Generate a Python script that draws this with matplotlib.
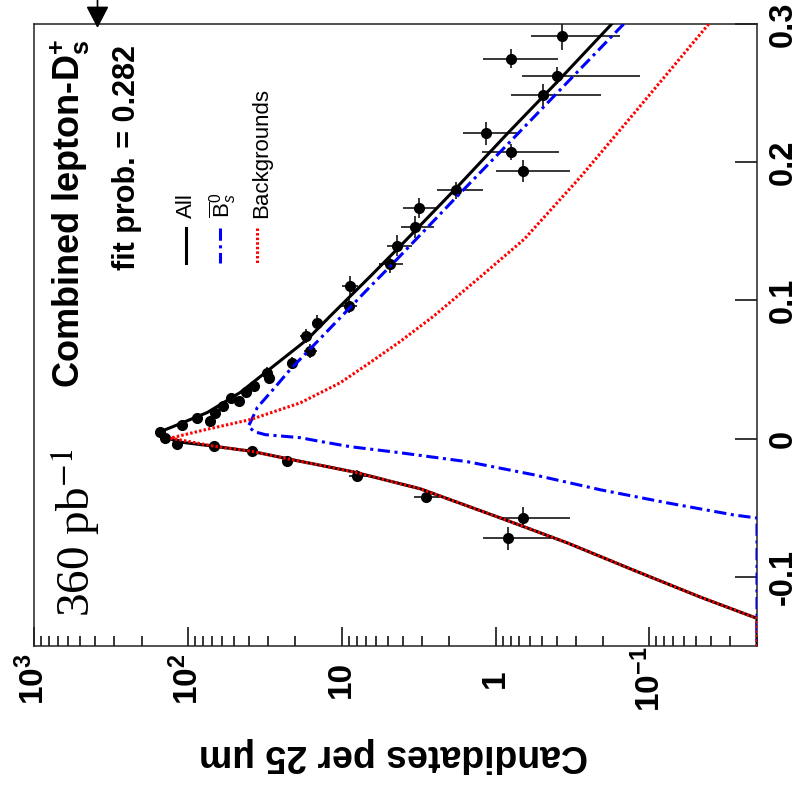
import matplotlib
matplotlib.use('Agg')
import matplotlib.pyplot as plt
from matplotlib.lines import Line2D
from matplotlib.ticker import LogLocator, NullFormatter
from matplotlib.transforms import blended_transform_factory

plt.rcParams['font.family'] = ['Liberation Sans', 'DejaVu Sans']
plt.rcParams['mathtext.fontset'] = 'custom'
plt.rcParams['mathtext.rm'] = 'Liberation Sans'
plt.rcParams['mathtext.bf'] = 'Liberation Sans:bold'
plt.rcParams['mathtext.it'] = 'Liberation Sans:italic'
plt.rcParams['mathtext.sf'] = 'Liberation Sans'

W, H = 799, 789

# ---- data points: decay length t (cm) vs candidates per 25 um ----
pt_t = [0.2914, 0.2750, 0.2627, 0.2486, 0.2208, 0.2075, 0.1937, 0.1796, 0.1670, 0.1532,
        0.1394, 0.1261, 0.1107, 0.0961, 0.0840, 0.0743, 0.0634, 0.0550, 0.0477, 0.0441,
        0.0380, 0.0341, 0.0296, 0.0271, 0.0235, 0.0187, 0.0150, 0.0126, 0.0098, 0.0046,
        0.0005, -0.0036, -0.0053, -0.0091, -0.0160, -0.0269, -0.0419, -0.0572, -0.0721]
pt_n = [0.369, 0.792, 0.397, 0.493, 1.146, 0.789, 0.659, 1.80, 3.16, 3.32,
        4.35, 4.83, 8.8, 9.0, 14.5, 17.1, 16.0, 21.0, 30.6, 29.9,
        37.4, 41.8, 52.7, 46.4, 59.4, 66.4, 87.3, 71.6, 109, 151,
        141, 118, 68.1, 38.4, 22.6, 7.94, 2.82, 0.66, 0.83]
pt_nlo = [0.156, 0.392, 0.116, 0.207, 0.71, 0.39, 0.33, 1.20, 2.35, 2.50,
          3.47, 4.0, 7.8, 7.9, 13.2, 15.5, 14.5, 19.3, 28.5, 27.8,
          35.0, 39.3, 49.8, 43.7, 56.3, 63.1, 83.5, 68.1, 104.5, 145,
          135, 113, 64.7, 35.8, 20.6, 6.9, 2.3, 0.33, 0.43]
pt_nhi = [0.586, 1.21, 0.678, 0.789, 1.62, 1.22, 1.00, 2.39, 3.97, 4.10,
          5.05, 5.7, 9.9, 10.2, 15.6, 18.7, 17.5, 22.7, 32.7, 32.0,
          39.8, 44.3, 55.6, 49.1, 62.5, 69.7, 91.1, 75.1, 113.5, 157,
          147, 123, 71.5, 41.0, 24.6, 9.0, 3.4, 0.93, 1.2]
pt_terr = [0.010, 0.007, 0.006, 0.008, 0.008, 0.006, 0.0077, 0.006, 0.007, 0.008,
           0.0076, 0.006, 0.007, 0.0055, 0.0055, 0.005, 0.005, 0.0044, 0.004, 0.0035,
           0.003, 0.003, 0.0025, 0.0025, 0.0025, 0.0025, 0.0025, 0.0025, 0.0025, 0.0025,
           0.0025, 0.0025, 0.0025, 0.0025, 0.003, 0.004, 0.005, 0.0077, 0.0083]

# ---- fit curves ----
all_t = [0.300, 0.2607, 0.2208, 0.1808, 0.1394, 0.1176, 0.0886, 0.0719, 0.0523, 0.0334,
         0.0189, 0.0087, 0.0051, 0.0015, -0.0022, -0.0056, -0.0092, -0.0145, -0.0240,
         -0.0363, -0.0574, -0.0755, -0.0951, -0.1147, -0.1300, -0.1500]
all_n = [0.176, 0.378, 0.837, 1.82, 4.16, 6.5, 11.9, 16.7, 27.9, 45.7,
         74.8, 125, 151, 141, 117, 66.4, 38.2, 22.6, 8.41,
         3.08, 0.929, 0.340, 0.127, 0.0465, 0.0200, 0.0200]

bs_t = [0.300, 0.2622, 0.2171, 0.1736, 0.1467, 0.1276, 0.1060, 0.0770, 0.0501, 0.0356,
        0.0225, 0.0116, 0.0090, 0.0051, 0.0029, 0.0007, -0.0020, -0.0058, -0.0102,
        -0.0167, -0.0261, -0.0370, -0.0465, -0.0552, -0.0574, -0.1500]
bs_n = [0.147, 0.313, 0.769, 1.84, 3.13, 4.57, 7.08, 12.6, 21.6, 27.9,
        35.4, 39.3, 40.5, 37.1, 31.4, 18.6, 13.8, 8.79, 4.16,
        1.52, 0.566, 0.208, 0.0762, 0.0283, 0.0200, 0.0200]

bkg_t = [0.300, 0.2367, 0.1903, 0.1445, 0.1176, 0.0886, 0.0704, 0.0552, 0.0405, 0.0259,
         0.0138, 0.0065, 0.0004, -0.0056, -0.0092, -0.0145, -0.0240, -0.0363,
         -0.0574, -0.0755, -0.0951, -0.1147, -0.1300, -0.1500]
bkg_n = [0.0412, 0.123, 0.276, 0.649, 1.24, 2.53, 4.16, 6.52, 10.2, 18.6,
         39.3, 77.0, 130, 66.4, 38.2, 22.6, 8.41, 3.08,
         0.929, 0.340, 0.127, 0.0465, 0.0200, 0.0200]

log_ticks = [1000, 100, 10, 1, 0.1]
log_labels = [r'$\mathbf{10^{3}}$', r'$\mathbf{10^{2}}$', '10', '1', r'$\mathbf{10^{-1}}$']
t_ticks = [-0.1, 0.0, 0.1, 0.2, 0.3]
t_labels = ['-0.1', '0', '0.1', '0.2', '0.3']

BLUE_DASH = (0, (4, 1.5, 1, 1.5))
RED_DOT = (0, (0.8, 0.7))


def fx(px):
    return px / W


def fy(py):
    return 1 - py / H


fig = plt.figure(figsize=(W / 100, H / 100), dpi=100)
ax = fig.add_axes([fx(34), fy(646), fx(757) - fx(34), fy(24) - fy(646)])

# plot is drawn rotated: counts run horizontally (inverted log), t runs vertically
nerr = [[n - lo for n, lo in zip(pt_n, pt_nlo)], [hi - n for n, hi in zip(pt_n, pt_nhi)]]
ax.errorbar(pt_n, pt_t, xerr=nerr, yerr=pt_terr, fmt='o', color='black', ms=7,
            elinewidth=1.1, capsize=0, zorder=2)
ax.plot(all_n, all_t, color='black', lw=2.2, zorder=3)
ax.plot(bs_n, bs_t, color='#0000ff', lw=2.2, linestyle=BLUE_DASH, zorder=4)
ax.plot(bkg_n, bkg_t, color='#ff0000', lw=2.2, linestyle=RED_DOT, zorder=5)

ax.set_xscale('log')
ax.set_xlim(1000, 0.02)
ax.set_ylim(-0.15, 0.30)

for sp in ax.spines.values():
    sp.set_linewidth(1.1)
    sp.set_color('#222222')

ax.xaxis.set_major_locator(LogLocator(base=10, numticks=10))
ax.xaxis.set_minor_locator(LogLocator(base=10, subs=[2, 3, 4, 5, 6, 7, 8, 9], numticks=20))
ax.xaxis.set_minor_formatter(NullFormatter())
ax.tick_params(axis='x', which='major', direction='in', length=14, width=1.1,
               top=False, bottom=True, labelbottom=False)
ax.tick_params(axis='x', which='minor', direction='in', length=7, width=1.1,
               top=False, bottom=True)

ax.yaxis.tick_right()
ax.set_yticks(t_ticks)
ax.tick_params(axis='y', direction='in', length=16, width=1.1, left=False,
               right=True, labelright=False, labelleft=False)

# tick labels, rotated like the rest of the picture
trans_x = blended_transform_factory(ax.transData, ax.transAxes)
for v, lab in zip(log_ticks, log_labels):
    ax.text(v, -0.053, lab, transform=trans_x, rotation=90, rotation_mode='anchor',
            ha='center', va='center', fontsize=24, fontweight='bold', clip_on=False)
trans_y = blended_transform_factory(ax.transAxes, ax.transData)
for v, lab in zip(t_ticks, t_labels):
    ax.text((792 - 34) / 723, v, lab, transform=trans_y, rotation=90,
            rotation_mode='anchor', ha='center', va='baseline', fontsize=23.5,
            fontweight='bold', clip_on=False)

# axis title (upside down)
fig.text(fx(393), fy(755), 'Candidates per 25 μm', rotation=180, ha='center',
         va='center', fontsize=27, fontweight='bold')

# annotations inside the frame
fig.text(fx(80), fy(388), r'Combined lepton-D$_{\mathbf{s}}^{\mathbf{+}}$', rotation=90,
         rotation_mode='anchor', ha='left', va='baseline', fontsize=26, fontweight='bold')
fig.text(fx(135), fy(270), 'fit prob. = 0.282', rotation=90, rotation_mode='anchor',
         ha='left', va='baseline', fontsize=22, fontweight='bold')
fig.text(fx(90), fy(617), r'360 pb$^{\mathrm{-1}}$', rotation=90, rotation_mode='anchor',
         ha='left', va='baseline', fontsize=34, family='Liberation Serif',
         math_fontfamily='stix')

# legend
leg_x = [186, 220, 257]
leg_style = [dict(color='black', lw=2.2, linestyle='-'),
             dict(color='#0000ff', lw=2.2, linestyle=BLUE_DASH),
             dict(color='#ff0000', lw=2.2, linestyle=RED_DOT)]
leg_text = ['All', r'$\overline{\mathrm{B}}{}_{s}^{0}$', 'Backgrounds']
leg_base = [192, 230, 267]
for x, st, txt, bx in zip(leg_x, leg_style, leg_text, leg_base):
    fig.add_artist(Line2D([fx(x), fx(x)], [fy(228), fy(263)], transform=fig.transFigure, **st))
    fig.text(fx(bx), fy(218), txt, rotation=90, rotation_mode='anchor', ha='left',
             va='baseline', fontsize=16)

# arrow at the top edge
ax.annotate('', xy=(fx(97.5), fy(28)), xytext=(fx(97.5), 1.0),
            xycoords='figure fraction', textcoords='figure fraction',
            arrowprops=dict(arrowstyle='-|>,head_length=1.35,head_width=0.7',
                            color='black', lw=1.2, shrinkA=0, shrinkB=0,
                            mutation_scale=10))

fig.savefig('out.png', dpi=100)
